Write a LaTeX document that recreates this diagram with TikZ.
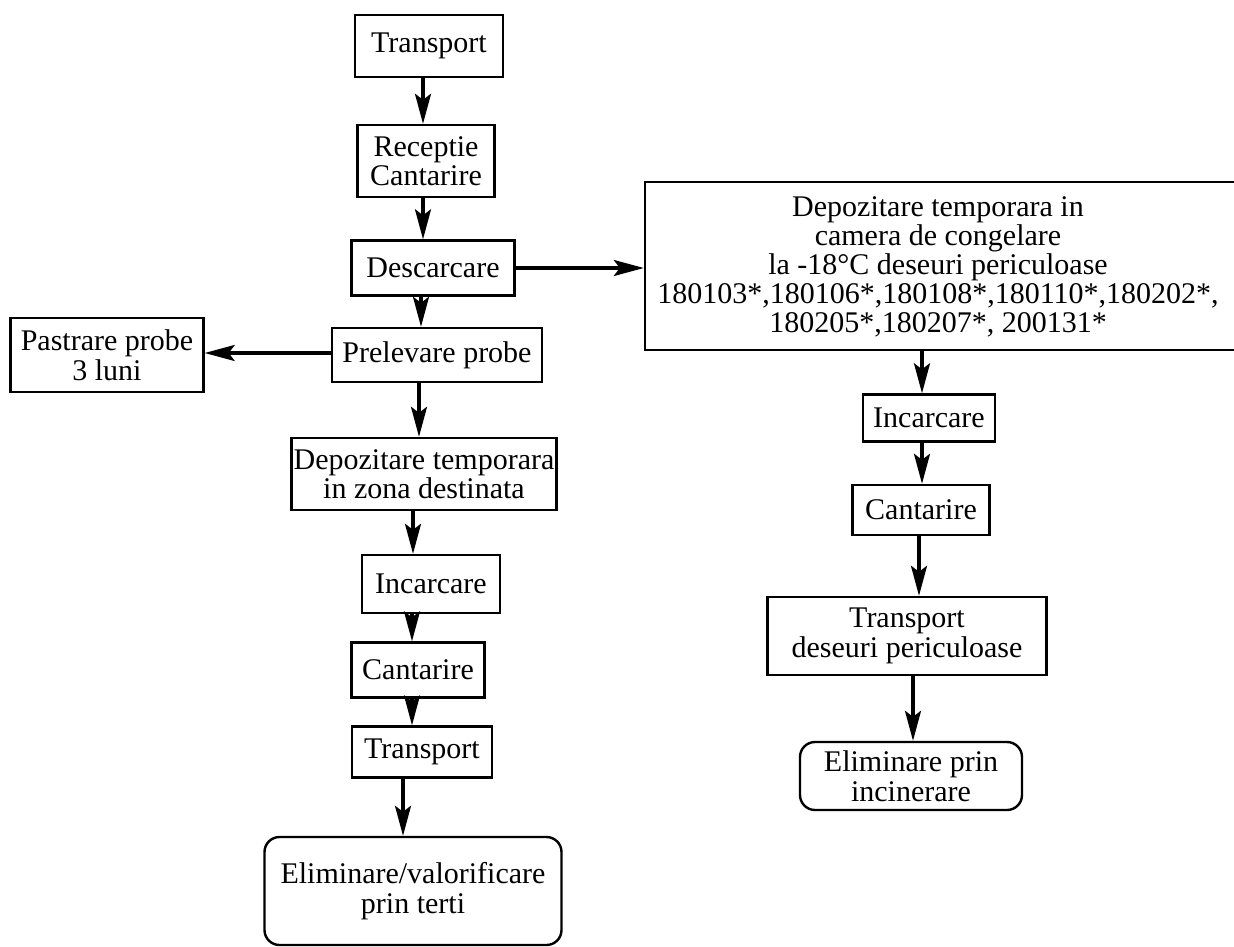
\documentclass[tikz,border=0pt]{standalone}
\usepackage{fontspec}
\setmainfont{Liberation Serif}
\usetikzlibrary{arrows.meta}
\tikzset{
  box/.style={draw, line width=2.4pt, inner sep=0pt, align=center,
    font=\fontsize{30pt}{29.5pt}\selectfont},
  rbox/.style={box, rounded corners=15pt},
  arr/.style={line width=3.2pt, -{Stealth[length=30pt,width=16pt,inset=6pt]}}
}
\begin{document}
\begin{tikzpicture}[x=1pt,y=-1pt]
\clip (0,0) rectangle (1234,947);
\fill[white] (0,0) rectangle (1234,947);
% left column
\node[box, minimum width=148pt, minimum height=62pt] (t1) at (429,46) {Transport};
\node[box, minimum width=137pt, minimum height=72pt] (rc) at (426,161) {Receptie\\Cantarire};
\node[box, minimum width=163pt, minimum height=55pt] (ds) at (433,268) {Descarcare};
\node[box, minimum width=210pt, minimum height=54pt] (pp) at (437,355) {Prelevare probe};
\node[box, minimum width=193pt, minimum height=74pt] (ps) at (107,355) {Pastrare probe\\3 luni};
\node[box, minimum width=265pt, minimum height=72pt] (dz) at (424,474) {Depozitare temporara\\in zona destinata};
\node[box, minimum width=138pt, minimum height=58pt] (i1) at (431,584) {Incarcare};
\node[box, minimum width=133pt, minimum height=55pt] (c1) at (418,670) {Cantarire};
\node[box, minimum width=140pt, minimum height=51pt] (t2) at (422,752) {Transport};
\node[rbox, minimum width=297pt, minimum height=108pt] (ev) at (413,891) {Eliminare/valorificare\\prin terti};
% right column
\node[box, minimum width=600pt, minimum height=168pt] (dc) at (945,266) {};
\node[align=center, font=\fontsize{30pt}{29pt}\selectfont] (dct) at (938,267)
  {Depozitare temporara in\\camera de congelare\\la -18°C deseuri periculoase\\180103*,180106*,180108*,180110*,180202*,\\180205*,180207*, 200131*};
\node[box, minimum width=132pt, minimum height=47pt] (i2) at (929,418) {Incarcare};
\node[box, minimum width=137pt, minimum height=50pt] (c2) at (921,510) {Cantarire};
\node[box, minimum width=279pt, minimum height=78pt] (td) at (907,636) {Transport\\deseuri periculoase};
\node[rbox, minimum width=222pt, minimum height=68pt] (ei) at (911,776) {Eliminare prin\\incinerare};
% connectors
\draw[arr] (t1.south -| 423,0) -- (rc.north -| 423,0);
\draw[arr] (rc.south -| 423,0) -- (ds.north -| 423,0);
\draw[arr] (ds.south -| 421,0) -- (pp.north -| 421,0);
\draw[arr] (pp.south -| 419,0) -- (dz.north -| 419,0);
\draw[arr] (dz.south -| 413,0) -- (i1.north -| 413,0);
\draw[arr] (i1.south -| 412,0) -- (c1.north -| 412,0);
\draw[arr] (c1.south -| 412,0) -- (t2.north -| 412,0);
\draw[arr] (t2.south -| 403,0) -- (ev.north -| 403,0);
\draw[arr] (pp.west |- 0,353) -- (ps.east |- 0,353);
\draw[arr] (ds.east |- 0,268) -- (dc.west |- 0,268);
\draw[arr] (dc.south -| 922,0) -- (i2.north -| 922,0);
\draw[arr] (i2.south -| 922,0) -- (c2.north -| 922,0);
\draw[arr] (c2.south -| 919,0) -- (td.north -| 919,0);
\draw[arr] (td.south -| 913,0) -- (ei.north -| 913,0);
\end{tikzpicture}
\end{document}
